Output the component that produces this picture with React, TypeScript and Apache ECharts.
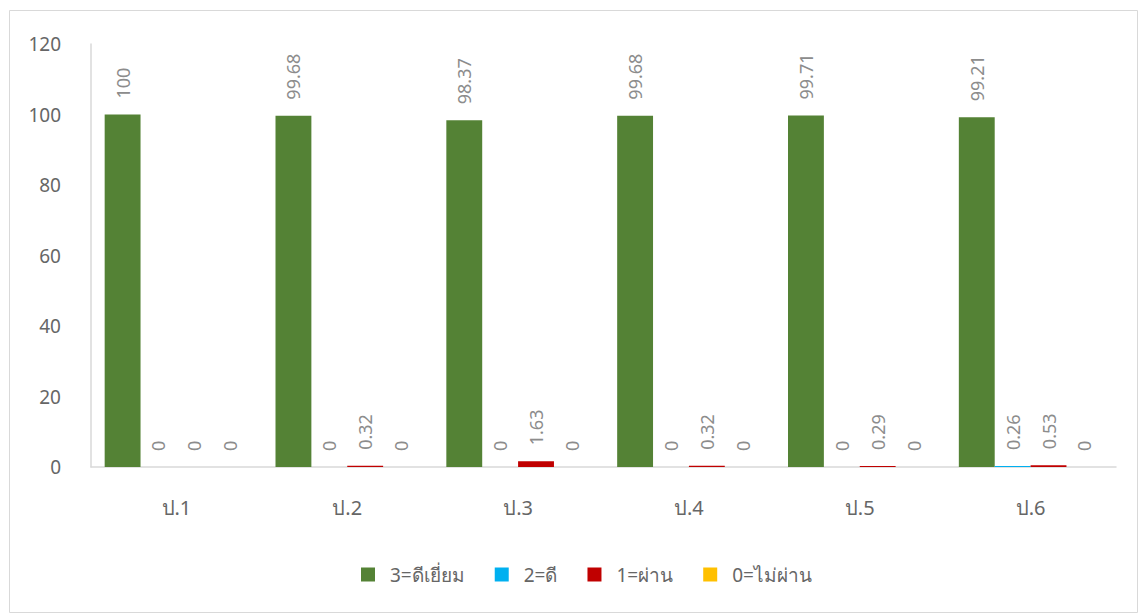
import React, { useEffect, useRef } from "react";
import * as echarts from "echarts";

const categories = ["ป.1", "ป.2", "ป.3", "ป.4", "ป.5", "ป.6"];
const seriesNames = ["3=ดีเยี่ยม", "2=ดี", "1=ผ่าน", "0=ไม่ผ่าน"];
const excellent = [100, 99.68, 98.37, 99.68, 99.71, 99.21];
const good = [0, 0, 0, 0, 0, 0.26];
const pass = [0, 0.32, 1.63, 0.32, 0.29, 0.53];
const fail = [0, 0, 0, 0, 0, 0];
const colors = ["#548235", "#00b0f0", "#c00000", "#ffc000"];

const FONT = "'Noto Sans', 'Open Sans', sans-serif";

export default function App() {
  const ref = useRef<HTMLDivElement>(null);
  useEffect(() => {
    document.body.style.margin = "0";
    const chart = echarts.init(ref.current!, null, { renderer: "svg" });
    const values = [excellent, good, pass, fail];
    chart.setOption({
      animation: false,
      textStyle: { fontFamily: FONT },
      grid: { left: 91, right: 23, top: 44, bottom: 147 },
      graphic: [
        {
          type: "rect",
          shape: { x: 9.5, y: 10.5, width: 1128, height: 602 },
          style: { fill: "none", stroke: "#d9d9d9", lineWidth: 1 },
          silent: true,
        },
      ],
      legend: {
        bottom: 25,
        left: 356,
        itemWidth: 14,
        itemHeight: 14,
        itemGap: 30,
        icon: "rect",
        textStyle: { fontSize: 19, color: "#666666", fontFamily: FONT, padding: [0, 0, 0, 10] },
        data: seriesNames,
      },
      xAxis: {
        type: "category",
        data: categories,
        axisLine: { lineStyle: { color: "#d9d9d9", width: 1.5 } },
        axisTick: { show: false },
        axisLabel: { fontSize: 20, color: "#666666", margin: 30, fontFamily: FONT },
      },
      yAxis: {
        type: "value",
        min: 0,
        max: 120,
        interval: 20,
        splitLine: { show: false },
        axisLine: { show: true, lineStyle: { color: "#d9d9d9", width: 1.5 } },
        axisTick: { show: false },
        axisLabel: { fontSize: 19, color: "#666666", margin: 30, fontFamily: FONT },
      },
      series: seriesNames.map((name, i) => ({
        name,
        type: "bar",
        data: values[i],
        barGap: "0%",
        barCategoryGap: "16%",
        itemStyle: { color: colors[i] },
        label: {
          show: true,
          position: "top",
          rotate: 90,
          align: "left",
          verticalAlign: "middle",
          distance: 16,
          fontSize: 18,
          color: "#8c8c8c",
          fontFamily: FONT,
        },
      })),
    });
    return () => chart.dispose();
  }, []);
  return <div ref={ref} style={{ width: 1139, height: 614 }} />;
}
